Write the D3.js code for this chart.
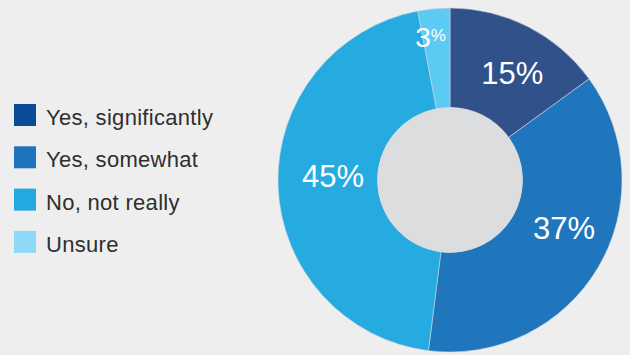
<!DOCTYPE html>
<html>
<head>
<meta charset="utf-8">
<script src="https://cdn.jsdelivr.net/npm/d3@7"></script>
<style>
  html, body { margin: 0; padding: 0; background: #eeeeee; }
  svg { display: block; }
  text { font-family: "Liberation Sans", Arial, Helvetica, sans-serif; }
</style>
</head>
<body>
<svg id="chart" width="630" height="355"></svg>
<script>
// Survey answers and their shares (percent)
const categories = ["Yes, significantly", "Yes, somewhat", "No, not really", "Unsure"];
const values = [15, 37, 45, 3];
const sliceColors = ["#30518a", "#1f76bd", "#26abe1", "#5ccbf3"];
const legendColors = ["#084b97", "#1e73be", "#22a9e0", "#8ed9f7"];
// small hand nudges applied to each value label, relative to its arc centroid
const labelNudge = [[7, 2], [9, -14], [5, -8], [-8, -20]];

const svg = d3.select("#chart");
const W = 630, H = 355;
svg.append("rect").attr("width", W).attr("height", H).attr("fill", "#eeeeee");

const cx = 450, cy = 180, rOuter = 172, rInner = 72.5;

const pie = d3.pie().sort(null).value(d => d)(values);
const arc = d3.arc().innerRadius(rInner).outerRadius(rOuter);
const labelArc = d3.arc().innerRadius(122).outerRadius(122);

const g = svg.append("g").attr("transform", `translate(${cx},${cy})`);

g.selectAll("path.slice")
  .data(pie)
  .join("path")
  .attr("class", "slice")
  .attr("d", arc)
  .attr("fill", (d, i) => sliceColors[i])
  .attr("stroke", "#c9d3dc")
  .attr("stroke-width", 0.6);

// grey hub
g.append("circle").attr("r", rInner).attr("fill", "#dcdddf");

// value labels
const labels = g.selectAll("text.val")
  .data(pie)
  .join("text")
  .attr("class", "val")
  .attr("fill", "#ffffff")
  .attr("text-anchor", "middle")
  .attr("transform", (d, i) => {
    const [x, y] = labelArc.centroid(d);
    return `translate(${x + labelNudge[i][0]},${y + labelNudge[i][1]})`;
  });

labels.each(function(d) {
  const t = d3.select(this);
  const small = d.data < 5;
  t.attr("dy", small ? "0.3em" : "0.36em")
   .style("font-size", small ? "28px" : "31px");
  t.append("tspan").text(d.data);
  if (small) {
    t.append("tspan").text("%").style("font-size", "17px").attr("dy", "-6");
  } else {
    t.append("tspan").text("%");
  }
});

// legend
const legend = svg.append("g").attr("transform", "translate(14,104)");
const item = legend.selectAll("g")
  .data(categories)
  .join("g")
  .attr("transform", (d, i) => `translate(0,${i * 42.3})`);

item.append("rect")
  .attr("width", 22).attr("height", 22)
  .attr("fill", (d, i) => legendColors[i]);

item.append("text")
  .attr("x", 32).attr("y", 21)
  .attr("fill", "#2e2e2e")
  .style("font-size", "22px")
  .style("letter-spacing", "0.3px")
  .text(d => d);
</script>
</body>
</html>
